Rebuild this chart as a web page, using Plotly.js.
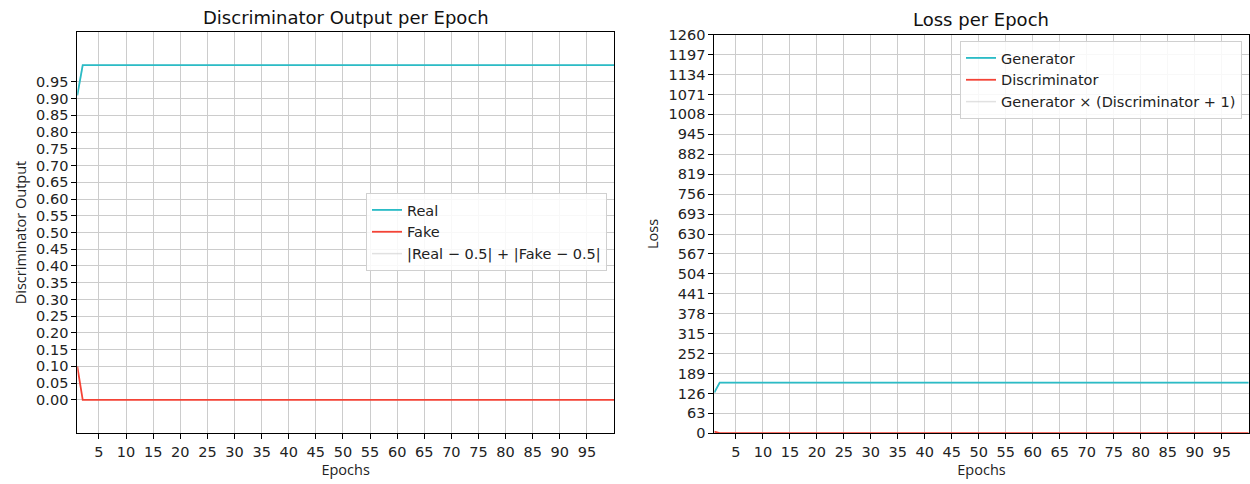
<!DOCTYPE html>
<html>
<head>
<meta charset="utf-8">
<script src="https://cdn.plot.ly/plotly-3.0.1.min.js"></script>
<style>html,body{margin:0;padding:0;background:#fff;}#chart{width:1250px;height:484px;}</style>
</head>
<body>
<div id="chart"></div>
<script>
const epochs = [1,2,3,4,5,6,7,8,9,10,11,12,13,14,15,16,17,18,19,20,21,22,23,24,25,26,27,28,29,30,31,32,33,34,35,36,37,38,39,40,41,42,43,44,45,46,47,48,49,50,51,52,53,54,55,56,57,58,59,60,61,62,63,64,65,66,67,68,69,70,71,72,73,74,75,76,77,78,79,80,81,82,83,84,85,86,87,88,89,90,91,92,93,94,95,96,97,98,99,100];

const realOutput = [0.91,1,1,1,1,1,1,1,1,1,1,1,1,1,1,1,1,1,1,1,1,1,1,1,1,1,1,1,1,1,1,1,1,1,1,1,1,1,1,1,1,1,1,1,1,1,1,1,1,1,1,1,1,1,1,1,1,1,1,1,1,1,1,1,1,1,1,1,1,1,1,1,1,1,1,1,1,1,1,1,1,1,1,1,1,1,1,1,1,1,1,1,1,1,1,1,1,1,1,1];
const fakeOutput = [0.1,0,0,0,0,0,0,0,0,0,0,0,0,0,0,0,0,0,0,0,0,0,0,0,0,0,0,0,0,0,0,0,0,0,0,0,0,0,0,0,0,0,0,0,0,0,0,0,0,0,0,0,0,0,0,0,0,0,0,0,0,0,0,0,0,0,0,0,0,0,0,0,0,0,0,0,0,0,0,0,0,0,0,0,0,0,0,0,0,0,0,0,0,0,0,0,0,0,0,0];
const outputGap = [0.91,1,1,1,1,1,1,1,1,1,1,1,1,1,1,1,1,1,1,1,1,1,1,1,1,1,1,1,1,1,1,1,1,1,1,1,1,1,1,1,1,1,1,1,1,1,1,1,1,1,1,1,1,1,1,1,1,1,1,1,1,1,1,1,1,1,1,1,1,1,1,1,1,1,1,1,1,1,1,1,1,1,1,1,1,1,1,1,1,1,1,1,1,1,1,1,1,1,1,1];

const genLoss = [129,160,160,160,160,160,160,160,160,160,160,160,160,160,160,159.5,159.5,159.5,159.5,160,160,160,160,160,160,160,160,160,160,160,160,160,160,160,160,160,160,160,160,160,160,160,160,160,160,160,160,160,160,160,160,160,160,160,160,160,160,160,160,160,160,160,160,160,160,160,160,160,160,160,160,160,160,160,160,160,160,160,160,160,159.5,159.5,159.5,159.5,160,160,160,160,160,160,160,160,160,160,160,160,160,160,160,160];
const discLoss = [5,0.5,0.5,0.5,0.5,0.5,0.5,0.5,0.5,0.5,0.5,0.5,0.5,0.5,0.5,0.5,0.5,0.5,0.5,0.5,0.5,0.5,0.5,0.5,0.5,0.5,0.5,0.5,0.5,0.5,0.5,0.5,0.5,0.5,0.5,0.5,0.5,0.5,0.5,0.5,0.5,0.5,0.5,0.5,0.5,0.5,0.5,0.5,0.5,0.5,0.5,0.5,0.5,0.5,0.5,0.5,0.5,0.5,0.5,0.5,0.5,0.5,0.5,0.5,0.5,0.5,0.5,0.5,0.5,0.5,0.5,0.5,0.5,0.5,0.5,0.5,0.5,0.5,0.5,0.5,0.5,0.5,0.5,0.5,0.5,0.5,0.5,0.5,0.5,0.5,0.5,0.5,0.5,0.5,0.5,0.5,0.5,0.5,0.5,0.5];
const combinedLoss = [130,160,160,160,160,160,160,160,160,160,160,160,160,160,160,159.5,159.5,159.5,159.5,160,160,160,160,160,160,160,160,160,160,160,160,160,160,160,160,160,160,160,160,160,160,160,160,160,160,160,160,160,160,160,160,160,160,160,160,160,160,160,160,160,160,160,160,160,160,160,160,160,160,160,160,160,160,160,160,160,160,160,160,160,159.5,159.5,159.5,159.5,160,160,160,160,160,160,160,160,160,160,160,160,160,160,160,160];

const xTicks = [5,10,15,20,25,30,35,40,45,50,55,60,65,70,75,80,85,90,95];
const leftYTicks = [0,0.05,0.1,0.15,0.2,0.25,0.3,0.35,0.4,0.45,0.5,0.55,0.6,0.65,0.7,0.75,0.8,0.85,0.9,0.95];
const leftYLabels = ["0.00","0.05","0.10","0.15","0.20","0.25","0.30","0.35","0.40","0.45","0.50","0.55","0.60","0.65","0.70","0.75","0.80","0.85","0.90","0.95"];
const rightYTicks = [0,63,126,189,252,315,378,441,504,567,630,693,756,819,882,945,1008,1071,1134,1197,1260];

const CYAN = '#2bbcc6';
const RED = '#f44336';
const GREY = 'rgba(200,200,200,0.55)';
const tickFont = {family: 'DejaVu Sans, sans-serif', size: 14.5, color: '#222'};
const labelFont = {family: 'Open Sans, sans-serif', size: 14.5, color: '#222'};
const legendFont = {family: 'DejaVu Sans, sans-serif', size: 14.5, color: '#222'};

const traces = [
  {x: epochs, y: outputGap, type: 'scatter', mode: 'lines', name: '|Real − 0.5| + |Fake − 0.5|', line: {color: GREY, width: 1.5}, xaxis: 'x', yaxis: 'y', legend: 'legend', legendrank: 3},
  {x: epochs, y: realOutput, type: 'scatter', mode: 'lines', name: 'Real', line: {color: CYAN, width: 1.8}, xaxis: 'x', yaxis: 'y', legend: 'legend', legendrank: 1},
  {x: epochs, y: fakeOutput, type: 'scatter', mode: 'lines', name: 'Fake', line: {color: RED, width: 1.8}, xaxis: 'x', yaxis: 'y', legend: 'legend', legendrank: 2},
  {x: epochs, y: combinedLoss, type: 'scatter', mode: 'lines', name: 'Generator × (Discriminator + 1)', line: {color: GREY, width: 1.5}, xaxis: 'x2', yaxis: 'y2', legend: 'legend2', legendrank: 3},
  {x: epochs, y: genLoss, type: 'scatter', mode: 'lines', name: 'Generator', line: {color: CYAN, width: 1.8}, xaxis: 'x2', yaxis: 'y2', legend: 'legend2', legendrank: 1},
  {x: epochs, y: discLoss, type: 'scatter', mode: 'lines', name: 'Discriminator', line: {color: RED, width: 1.8}, xaxis: 'x2', yaxis: 'y2', legend: 'legend2', legendrank: 2}
];

const W = 1250, H = 484;
const axisCommon = {
  showline: true, linecolor: '#000', linewidth: 1, mirror: true,
  ticks: 'outside', ticklen: 5, tickwidth: 1, tickcolor: '#000',
  showgrid: true, gridcolor: '#cccccc', gridwidth: 1,
  zeroline: false, tickfont: tickFont
};

const layout = {
  width: W, height: H,
  margin: {l: 0, r: 0, t: 0, b: 0},
  paper_bgcolor: '#fff', plot_bgcolor: '#fff',
  showlegend: true,
  font: {family: 'DejaVu Sans, sans-serif', size: 14, color: '#222'},
  xaxis: Object.assign({}, axisCommon, {domain: [77.3/W, 614/W], range: [1, 100], tickvals: xTicks, anchor: 'y',
    title: {text: 'Epochs', font: labelFont, standoff: 6}}),
  yaxis: Object.assign({}, axisCommon, {domain: [(H-433.3)/H, (H-31.7)/H], range: [-0.1, 1.1], tickvals: leftYTicks, ticktext: leftYLabels, anchor: 'x',
    title: {text: 'Discriminator Output', font: labelFont, standoff: 6}}),
  xaxis2: Object.assign({}, axisCommon, {domain: [714.3/W, 1248.7/W], range: [1, 100], tickvals: xTicks, anchor: 'y2',
    title: {text: 'Epochs', font: labelFont, standoff: 6}}),
  yaxis2: Object.assign({}, axisCommon, {domain: [(H-433.3)/H, (H-34.7)/H], range: [0, 1260], tickvals: rightYTicks, anchor: 'x2',
    title: {text: 'Loss', font: labelFont, standoff: 6}}),
  legend: {x: 607/W, xanchor: 'right', y: (H-193)/H, yanchor: 'top', bgcolor: 'rgba(255,255,255,0.85)', bordercolor: '#d0d0d0', borderwidth: 1,
    font: legendFont, traceorder: 'normal', tracegroupgap: 0, itemwidth: 30},
  legend2: {x: 1242/W, xanchor: 'right', y: (H-41)/H, yanchor: 'top', bgcolor: 'rgba(255,255,255,0.85)', bordercolor: '#d0d0d0', borderwidth: 1,
    font: legendFont, traceorder: 'normal', tracegroupgap: 0, itemwidth: 30},
  annotations: [
    {text: 'Discriminator Output per Epoch', xref: 'paper', yref: 'paper', x: 346/W, y: (H-18)/H, xanchor: 'center', yanchor: 'middle', showarrow: false,
      font: {family: 'DejaVu Sans, sans-serif', size: 18, color: '#111'}},
    {text: 'Loss per Epoch', xref: 'paper', yref: 'paper', x: 981/W, y: (H-20)/H, xanchor: 'center', yanchor: 'middle', showarrow: false,
      font: {family: 'DejaVu Sans, sans-serif', size: 18, color: '#111'}}
  ]
};

Plotly.newPlot('chart', traces, layout, {displayModeBar: false, staticPlot: true});
</script>
</body>
</html>
